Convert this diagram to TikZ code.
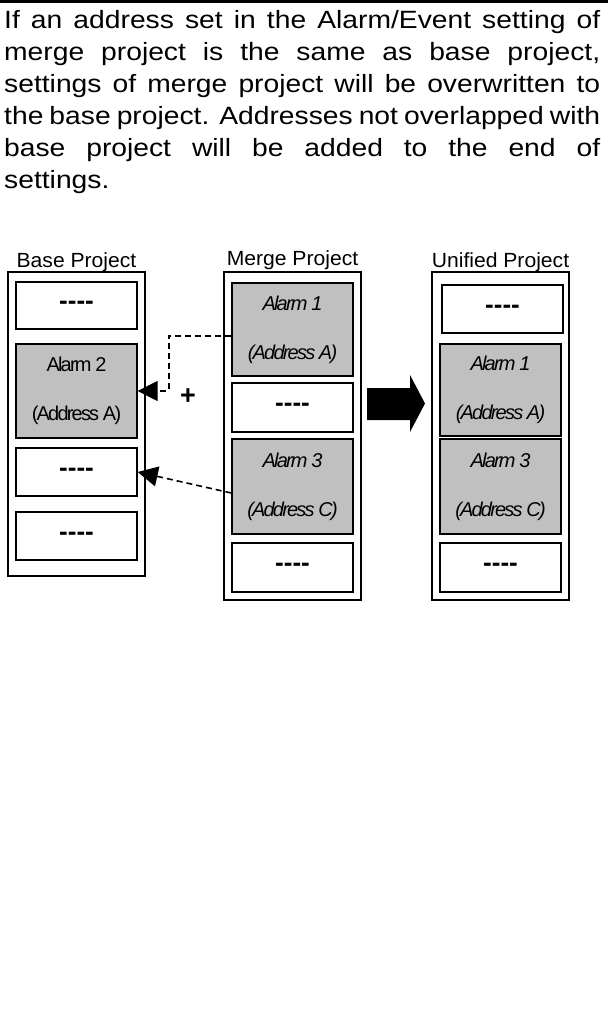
\documentclass[tikz,border=0pt]{standalone}
\usepackage{fontspec}
\setmainfont{Liberation Sans}
\newfontfamily\bodyfont{Liberation Sans}[FakeStretch=1.13]
\newfontfamily\titlefont{Liberation Sans}[FakeStretch=1.03]
\newfontfamily\slotfont{Liberation Sans}[LetterSpace=-9]
\usetikzlibrary{arrows.meta}
\definecolor{alarmgray}{HTML}{C0C0C0}
\newcommand\emptyslot{-{}-{}-{}-}

\begin{document}
\begin{tikzpicture}
  [
    x = 1pt, y = -1pt,
    project/.style = {draw, line width=1.2pt, inner sep=0pt, minimum width=137pt},
    slot/.style = {draw, line width=1.4pt, fill=white, inner sep=0pt, minimum width=121pt,
        font=\fontsize{26}{26}\selectfont\bfseries},
    alarm/.style = {slot, fill=alarmgray, align=center,
        font=\slotfont\fontsize{20}{49}\selectfont},
    title/.style = {anchor=base, inner sep=0pt, font=\titlefont\fontsize{20.5}{24}\selectfont},
    link/.style = {dash pattern=on 6pt off 4pt, line width=1.6pt,
        -{Triangle[length=20pt,width=20pt]}},
  ]

  \useasboundingbox (0,0) rectangle (608,1032);

  \draw [line width=2.7pt] (0,1.35) -- (608,1.35);
  \node (intro) [anchor=base west, inner sep=0pt, text width=596pt, align=justify,
      font=\bodyfont\fontsize{25}{32}\selectfont] at (4,29)
    {If an address set in the Alarm/Event setting of\linebreak
     merge project is the same as base project,\linebreak
     settings of merge project will be overwritten to\linebreak
     the base project. Addresses not overlapped with\linebreak
     base project will be added to the end of\linebreak
     settings.};

  % base project
  \node (basetitle) [title] at (76.5,267) {Base Project};
  \node (base) [project, minimum height=304pt] at (76.5,424) {};
  \node (b1) [slot, minimum height=47pt] at (76.5,305.5) {\emptyslot};
  \node (b2) [alarm, minimum height=94pt] at (76.5,391) {Alarm 2\\(Address A)};
  \node (b3) [slot, minimum height=48pt] at (76.5,472) {\emptyslot};
  \node (b4) [slot, minimum height=48pt] at (76.5,536) {\emptyslot};

  % merge project
  \node (mergetitle) [title] at (292.5,265) {Merge Project};
  \node (merge) [project, minimum height=328pt] at (292.5,436) {};
  \node (m1) [alarm, minimum height=93pt] at (292.5,329.5) {\itshape Alarm 1\\\itshape (Address A)};
  \node (m2) [slot, minimum height=49pt] at (292.5,407.5) {\emptyslot};
  \node (m3) [alarm, minimum height=95pt] at (292.5,486.5) {\itshape Alarm 3\\\itshape (Address C)};
  \node (m4) [slot, minimum height=49pt] at (292.5,567.5) {\emptyslot};

  % unified project
  \node (unifiedtitle) [title] at (500.5,267) {Unified Project};
  \node (unified) [project, minimum height=328pt] at (500.5,436) {};
  \node (u1) [slot, minimum height=48pt] at (502.5,309) {\emptyslot};
  \node (u2) [alarm, minimum height=92pt] at (500.5,390) {\itshape Alarm 1\\\itshape (Address A)};
  \node (u3) [alarm, minimum height=95pt] at (500.5,486.5) {\itshape Alarm 3\\\itshape (Address C)};
  \node (u4) [slot, minimum height=49pt] at (500.5,567.5) {\emptyslot};

  \fill (367,388) -- (410,388) -- (410,375) -- (425,403.5) -- (410,432) -- (410,420)
    -- (367,420) -- cycle;

  \draw [link] ([yshift=-6.5pt]m1.west) -| ([xshift=31pt]b2.east) -- (b2.east);
  \node (plus) [inner sep=0pt, font=\fontsize{27}{27}\selectfont\bfseries] at (188,397) {+};
  \draw [link] ([yshift=-6.5pt]m3.west) -- (b3.east);

\end{tikzpicture}
\end{document}
